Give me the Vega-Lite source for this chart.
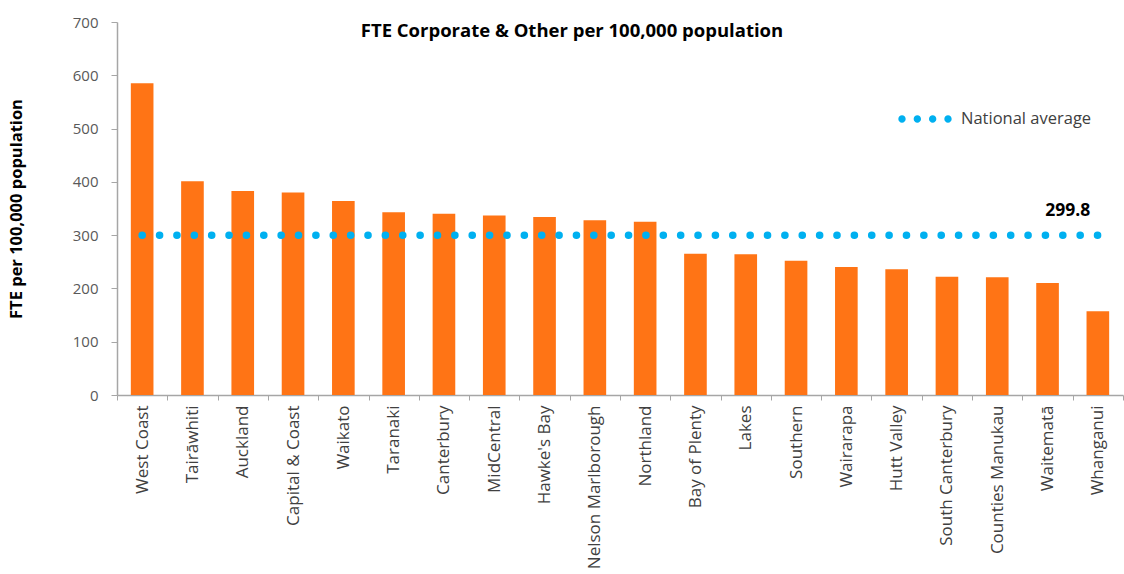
{
  "$schema": "https://vega.github.io/schema/vega-lite/v6.json",
  "width": 1006,
  "height": 373,
  "autosize": {"type": "none"},
  "padding": {"left": 117, "top": 22, "right": 1, "bottom": 179},
  "background": "white",
  "config": {
    "font": "Open Sans",
    "view": {"stroke": null}
  },
  "title": {
    "text": "FTE Corporate & Other per 100,000 population",
    "font": "Open Sans",
    "fontSize": 18.5,
    "fontWeight": "bold",
    "color": "#000000",
    "anchor": "middle",
    "frame": "group",
    "dx": -48,
    "offset": -25
  },
  "datasets": {
    "bars": [
      {"region": "West Coast", "value": 585},
      {"region": "Tairāwhiti", "value": 401},
      {"region": "Auckland", "value": 383},
      {"region": "Capital & Coast", "value": 380},
      {"region": "Waikato", "value": 364},
      {"region": "Taranaki", "value": 343},
      {"region": "Canterbury", "value": 340},
      {"region": "MidCentral", "value": 337},
      {"region": "Hawke's Bay", "value": 334},
      {"region": "Nelson Marlborough", "value": 328},
      {"region": "Northland", "value": 325},
      {"region": "Bay of Plenty", "value": 265},
      {"region": "Lakes", "value": 264},
      {"region": "Southern", "value": 252},
      {"region": "Wairarapa", "value": 240},
      {"region": "Hutt Valley", "value": 236},
      {"region": "South Canterbury", "value": 222},
      {"region": "Counties Manukau", "value": 221},
      {"region": "Waitematā", "value": 210},
      {"region": "Whanganui", "value": 157}
    ],
    "avg": [
      {"region": "West Coast", "value": 299.8, "series": "National average"},
      {"region": "Whanganui", "value": 299.8, "series": "National average"}
    ],
    "avglabel": [
      {"region": "Whanganui", "value": 299.8, "label": "299.8"}
    ]
  },
  "encoding": {
    "x": {
      "field": "region",
      "type": "nominal",
      "sort": null,
      "scale": {"paddingInner": 0, "paddingOuter": 0},
      "axis": {
        "title": null,
        "labelAngle": -90,
        "labelFontSize": 17,
        "labelColor": "#404040",
        "labelPadding": 5,
        "tickBand": "extent",
        "tickSize": 5,
        "tickColor": "#A6A6A6",
        "domainColor": "#A6A6A6",
        "domainWidth": 1.5,
        "labelLimit": 300
      }
    },
    "y": {
      "field": "value",
      "type": "quantitative",
      "scale": {"domain": [0, 700], "nice": false},
      "axis": {
        "title": "FTE per 100,000 population",
        "titleFontSize": 16.5,
        "titleFontWeight": "bold",
        "titleColor": "#000000",
        "titlePadding": 48,
        "values": [0, 100, 200, 300, 400, 500, 600, 700],
        "grid": false,
        "labelFontSize": 15,
        "labelColor": "#595959",
        "labelPadding": 13,
        "tickSize": 6,
        "tickColor": "#A6A6A6",
        "domainColor": "#A6A6A6",
        "domainWidth": 1.5
      }
    }
  },
  "layer": [
    {
      "data": {"name": "bars"},
      "mark": {"type": "bar", "color": "#FF7415", "width": {"band": 0.45}}
    },
    {
      "data": {"name": "avg"},
      "mark": {
        "type": "line",
        "strokeWidth": 7.5,
        "strokeDash": [0.1, 17.27],
        "strokeCap": "round",
        "fill": "#00B0F0"
      },
      "encoding": {
        "color": {
          "field": "series",
          "type": "nominal",
          "scale": {"range": ["#00B0F0"]},
          "legend": {
            "title": null,
            "orient": "none",
            "legendX": 785,
            "legendY": 74,
            "symbolType": "M-1.16,0 C-1.16,-0.0884 -1.0884,-0.16 -1,-0.16 C-0.9116,-0.16 -0.84,-0.0884 -0.84,0 C-0.84,0.0884 -0.9116,0.16 -1,0.16 C-1.0884,0.16 -1.16,0.0884 -1.16,0 Z M-0.4933,0 C-0.4933,-0.0884 -0.4217,-0.16 -0.3333,-0.16 C-0.2449,-0.16 -0.1733,-0.0884 -0.1733,0 C-0.1733,0.0884 -0.2449,0.16 -0.3333,0.16 C-0.4217,0.16 -0.4933,0.0884 -0.4933,0 Z M0.1733,0 C0.1733,-0.0884 0.2449,-0.16 0.3333,-0.16 C0.4217,-0.16 0.4933,-0.0884 0.4933,0 C0.4933,0.0884 0.4217,0.16 0.3333,0.16 C0.2449,0.16 0.1733,0.0884 0.1733,0 Z M0.84,0 C0.84,-0.0884 0.9116,-0.16 1,-0.16 C1.0884,-0.16 1.16,-0.0884 1.16,0 C1.16,0.0884 1.0884,0.16 1,0.16 C0.9116,0.16 0.84,0.0884 0.84,0 Z",
            "symbolSize": 2116,
            "symbolStrokeWidth": 0,
            "symbolFillColor": "#00B0F0",
            "labelFontSize": 16.5,
            "labelColor": "#404040",
            "labelOffset": 13
          }
        }
      }
    },
    {
      "data": {"name": "avglabel"},
      "mark": {
        "type": "text",
        "fontSize": 17.5,
        "fontWeight": "bold",
        "color": "#000000",
        "dx": -30,
        "dy": -24,
        "align": "center",
        "baseline": "middle"
      },
      "encoding": {"text": {"field": "label"}}
    }
  ]
}
